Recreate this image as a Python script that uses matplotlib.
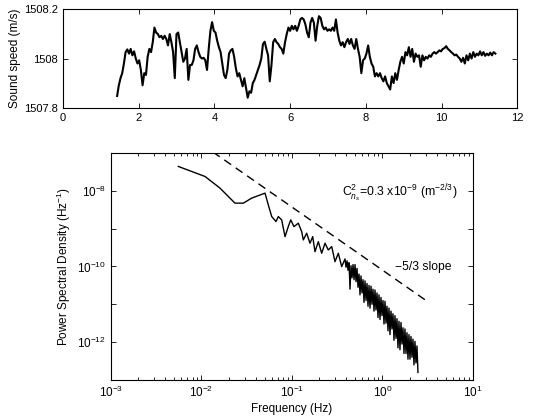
import numpy as np
import matplotlib.pyplot as plt
from matplotlib.ticker import FixedLocator, FuncFormatter, LogLocator, NullLocator

plt.rcParams['font.family'] = ['Liberation Sans', 'DejaVu Sans']
plt.rcParams['mathtext.fontset'] = 'custom'
plt.rcParams['mathtext.rm'] = 'Liberation Sans'
plt.rcParams['mathtext.it'] = 'Liberation Sans:italic'
plt.rcParams['mathtext.bf'] = 'Liberation Sans:bold'

# ---- top panel: sound speed record ----
t_start, t_end = 1.43, 11.42
speed_base = 1508.0
speed_anom = [
    -0.151, -0.108, -0.079, -0.059, -0.020, 0.026, 0.037, 0.020, 0.039, 0.013,
    0.029, 0.000, -0.020, -0.007, -0.046, -0.108, -0.059, -0.066, 0.007, 0.039,
    0.026, 0.066, 0.125, 0.105, 0.099, 0.086, 0.092, 0.079, 0.092, 0.079,
    0.053, 0.099, 0.066, 0.026, -0.079, 0.099, 0.105, 0.066, 0.026, -0.013,
    0.000, 0.039, -0.086, -0.026, -0.026, -0.007, 0.039, 0.053, 0.026, 0.007,
    0.000, 0.003, -0.007, -0.046, 0.039, 0.112, 0.147, 0.112, 0.105, 0.072,
    0.046, 0.026, -0.020, -0.066, -0.079, -0.046, 0.020, 0.033, 0.039, 0.007,
    -0.039, -0.072, -0.059, -0.086, -0.112, -0.079, -0.118, -0.158, -0.132, -0.138,
    -0.099, -0.086, -0.066, -0.046, -0.026, 0.000, 0.059, 0.068, 0.039, 0.013,
    -0.092, -0.026, 0.066, 0.079, 0.066, 0.059, 0.046, 0.039, 0.020, 0.066,
    0.099, 0.125, 0.112, 0.132, 0.118, 0.132, 0.112, 0.132, 0.158, 0.164,
    0.158, 0.138, 0.105, 0.086, 0.145, 0.164, 0.145, 0.072, 0.132, 0.171,
    0.164, 0.132, 0.118, 0.125, 0.112, 0.118, 0.112, 0.125, 0.112, 0.158,
    0.105, 0.072, 0.053, 0.066, 0.046, 0.066, 0.079, 0.059, 0.079, 0.053,
    0.039, 0.079, 0.039, 0.007, -0.059, -0.007, 0.000, 0.020, 0.053, 0.007,
    -0.020, -0.033, -0.072, -0.059, -0.072, -0.059, -0.079, -0.092, -0.072, -0.099,
    -0.112, -0.125, -0.072, -0.099, -0.059, -0.086, -0.046, -0.013, 0.007, -0.020,
    0.026, 0.013, 0.046, 0.007, 0.039, -0.013, 0.020, 0.007, 0.013, -0.033,
    0.013, -0.007, 0.007, 0.000, 0.013, 0.007, 0.020, 0.026, 0.020, 0.026,
    0.033, 0.029, 0.039, 0.042, 0.050, 0.039, 0.033, 0.026, 0.020, 0.013,
    0.016, 0.007, 0.000, -0.013, 0.003, -0.020, 0.013, -0.007, 0.020, 0.000,
    0.026, 0.007, 0.020, 0.013, 0.029, 0.013, 0.026, 0.011, 0.020, 0.013,
    0.024, 0.013, 0.026, 0.020,
]

# ---- bottom panel: power spectral density (log10 values) ----
lf_logf = [-2.256, -1.961, -1.796, -1.630, -1.538, -1.445, -1.298, -1.262, -1.224, -1.177,
           -1.151, -1.114, -1.077, -1.041, -1.014, -0.978, -0.930, -0.893, -0.875, -0.838,
           -0.801, -0.771, -0.746, -0.709, -0.672, -0.635, -0.599, -0.561, -0.525, -0.488,
           -0.451]
lf_logp = [-7.356, -7.621, -7.928, -8.326, -8.326, -8.193, -8.061, -8.371, -8.681, -8.813,
           -8.681, -8.768, -9.211, -8.946, -8.768, -8.946, -8.856, -9.078, -9.298, -9.121,
           -9.385, -9.211, -9.608, -9.343, -9.650, -9.385, -9.563, -9.475, -9.873, -9.650,
           -10.005]
hf_logf_start, hf_logf_end = -0.414, 0.392
hf_logp = [
    -9.80, -10.02, -9.85, -10.10, -9.90,
    -10.60, -9.98, -10.30, -9.95, -10.35,
    -9.95, -10.40, -10.05, -10.55, -10.20,
    -10.75, -10.25, -10.70, -10.35, -10.95,
    -10.38, -10.90, -10.45, -11.05, -10.50,
    -11.10, -10.52, -11.00, -10.60, -11.18,
    -10.62, -11.15, -10.70, -11.35, -10.75,
    -11.40, -10.82, -11.30, -10.90, -11.52,
    -10.92, -11.50, -11.05, -11.70, -11.10,
    -11.80, -11.18, -11.65, -11.25, -11.95,
    -11.30, -11.90, -11.38, -12.15, -11.45,
    -12.20, -11.48, -12.05, -11.62, -12.30,
    -11.65, -12.30, -11.75, -12.45, -11.80,
    -12.45, -11.85, -12.40, -11.92, -12.60,
    -11.98, -12.55, -12.10, -12.80,
]

# -5/3 reference line
slope_f = np.array([0.01, 3.1])
slope_coef = 8e-11

fig = plt.figure(figsize=(5.37, 4.19), dpi=100)

# top axes
ax1 = fig.add_axes([0.1173, 0.742, 0.846, 0.2365])
t = np.linspace(t_start, t_end, len(speed_anom))
speed = speed_base + np.array(speed_anom)
ax1.plot(t, speed, color='black', lw=1.5)
ax1.set_xlim(0, 12)
ax1.set_ylim(1507.8, 1508.2)
ax1.set_xticks([0, 2, 4, 6, 8, 10, 12])
ax1.set_yticks([1507.8, 1508.0, 1508.2])
ax1.yaxis.set_major_formatter(FuncFormatter(lambda v, p: '%g' % round(v, 1)))
ax1.set_ylabel('Sound speed (m/s)', fontsize=8.5, labelpad=2)

# bottom axes
ax2 = fig.add_axes([0.2067, 0.0931, 0.6741, 0.5418])
freq = np.concatenate([10 ** np.array(lf_logf),
                       np.logspace(hf_logf_start, hf_logf_end, len(hf_logp))])
psd = np.concatenate([10 ** np.array(lf_logp), 10 ** np.array(hf_logp)])
ax2.loglog(freq, psd, color='black', lw=1.0)
ax2.loglog(slope_f, slope_coef * slope_f ** (-5 / 3), color='black', lw=1.0,
           dashes=(6, 4))
ax2.set_xlim(1e-3, 1e1)
ax2.set_ylim(1e-13, 1e-7)
ax2.yaxis.set_major_locator(FixedLocator([10.0 ** k for k in range(-13, -6)]))
ax2.yaxis.set_major_formatter(FuncFormatter(
    lambda v, p: r'$10^{%d}$' % round(np.log10(v)) if round(np.log10(v)) % 2 == 0 else ''))
ax2.yaxis.set_minor_locator(NullLocator())
ax2.xaxis.set_major_locator(LogLocator(base=10, numticks=10))
ax2.xaxis.set_minor_locator(LogLocator(base=10, subs=np.arange(2, 10), numticks=20))
ax2.set_xlabel('Frequency (Hz)', fontsize=8.5, labelpad=2)
ax2.set_ylabel('Power Spectral Density (Hz$^{-1}$)', fontsize=8.5, labelpad=3)

ax2.text(0.356, 8.9e-9, r'C$^2_{n_s}$=0.3 x10$^{-9}$ (m$^{-2/3}$)', fontsize=8.8,
         ha='left', va='center')
ax2.text(1.375, 9.7e-11, '\u22125/3 slope', fontsize=8.7, ha='left', va='center')

for ax in (ax1, ax2):
    ax.tick_params(which='both', direction='in', top=True, right=True,
                   labelsize=8, width=0.6)
    ax.tick_params(which='major', length=3.5)
    ax.tick_params(which='minor', length=2)
    for s in ax.spines.values():
        s.set_linewidth(0.8)
ax2.tick_params(which='major', labelsize=8.5)

fig.savefig('out.png', dpi=100)
